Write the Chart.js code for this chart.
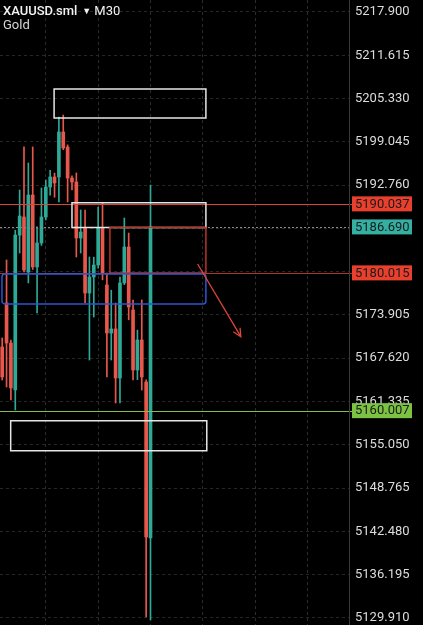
<!DOCTYPE html>
<html>
<head>
<meta charset="utf-8">
<script src="https://cdn.jsdelivr.net/npm/chart.js@4"></script>
<style>
html,body{margin:0;padding:0;background:#000;}
#wrap{width:423px;height:625px;}
</style>
</head>
<body>
<div id="wrap"><canvas id="chart"></canvas></div>
<script>
// XAUUSD.sml M30 candles
var opens  = [5169.25,5175.64,5169.83,5163.01,5185.50,5188.13,5180.14,5191.32,5180.87,5184.35,5188.13,5192.49,5193.94,5193.94,5200.47,5198.30,5193.79,5193.21,5185.08,5186.52,5177.09,5179.42,5181.16,5186.52,5178.26,5171.28,5171.87,5164.75,5178.55,5183.77,5174.62,5165.91,5170.27,5164.17,5141.51];
var highs  = [5170.56,5181.89,5170.27,5186.20,5192.05,5198.30,5195.97,5198.30,5186.70,5192.34,5193.50,5194.90,5194.50,5202.65,5202.94,5198.60,5194.10,5194.52,5189.15,5189.15,5182.32,5182.30,5189.58,5190.16,5180.00,5177.50,5175.64,5179.42,5187.98,5185.80,5176.08,5171.70,5176.08,5164.50,5192.78];
var lows   = [5164.46,5163.44,5161.55,5160.10,5182.90,5180.14,5178.55,5180.50,5174.19,5184.00,5187.70,5191.30,5191.00,5190.31,5197.90,5190.31,5192.05,5182.32,5182.90,5175.64,5167.36,5173.61,5180.70,5179.00,5164.90,5167.36,5161.12,5161.12,5178.30,5173.20,5164.46,5164.50,5163.00,5130.04,5129.61];
var closes = [5164.90,5169.83,5163.30,5185.50,5188.27,5180.43,5191.32,5180.87,5184.35,5188.13,5192.49,5193.94,5193.07,5200.47,5198.15,5193.79,5193.21,5185.08,5185.95,5177.09,5179.42,5181.16,5186.52,5180.00,5171.28,5171.87,5164.75,5178.55,5183.77,5175.06,5165.91,5170.27,5164.90,5141.66,5186.69];

var yTicks = [5217.900,5211.615,5205.330,5199.045,5192.760,5186.475,5180.190,5173.905,5167.620,5161.335,5155.050,5148.765,5142.480,5136.195,5129.910];

// horizontal price levels: resistance, current price, support
var levelPrices = [5190.037, 5186.690, 5180.015, 5160.007];

// drawn zones (bar index from/to, price top/bottom)
var zoneFrom   = [11.9, 16.0, 24.7, -0.05, 1.95];
var zoneTo     = [46.7, 46.7, 46.7, 46.7, 46.9];
var zoneTop    = [5206.72, 5190.20, 5186.60, 5179.85, 5158.55];
var zoneBottom = [5202.51, 5186.60, 5180.00, 5175.50, 5154.19];

// arrow drawn from / to (bar index, price)
var arrowFrom = [44.8, 5181.3];
var arrowTo   = [54.7, 5170.75];

var SLOTS = 80;
var labels = [];
for (var i = 0; i < SLOTS; i++) labels.push(String(i));

var UP = '#2ea897', DOWN = '#e8574c';
var bodies = [], wicks = [], colors = [];
for (var k = 0; k < opens.length; k++) {
    bodies.push([Math.min(opens[k], closes[k]), Math.max(opens[k], closes[k])]);
    wicks.push([lows[k], highs[k]]);
    colors.push(closes[k] >= opens[k] ? UP : DOWN);
}

var overlay = {
    id: 'overlay',
    beforeDraw: function(chart) {
        var c = chart.ctx;
        c.save();
        c.fillStyle = '#000';
        c.fillRect(0, 0, chart.width, chart.height);
        c.restore();
    },
    afterDatasetsDraw: function(chart) {
        var c = chart.ctx, xs = chart.scales.x, ys = chart.scales.y;
        var right = chart.chartArea.right;
        c.save();
        // price level lines
        var lineCols = ['#d9453a', null, '#b23328', '#7dbf4c'];
        levelPrices.forEach(function(p, i) {
            var y = Math.round(ys.getPixelForValue(p)) + 0.5;
            c.beginPath();
            if (i === 1) { c.strokeStyle = '#8a8a8a'; c.setLineDash([2, 2]); }
            else { c.strokeStyle = lineCols[i]; c.setLineDash([]); }
            c.lineWidth = 1;
            c.moveTo(0, y); c.lineTo(right + 3, y); c.stroke();
        });
        c.setLineDash([]);
        // zones
        var zoneCols = ['#e6e6e6', '#e6e6e6', '#b8352b', '#2b57d0', '#e6e6e6'];
        for (var z = 0; z < zoneFrom.length; z++) {
            var x1 = xs.getPixelForValue(zoneFrom[z]), x2 = xs.getPixelForValue(zoneTo[z]);
            var y1 = ys.getPixelForValue(zoneTop[z]), y2 = ys.getPixelForValue(zoneBottom[z]);
            c.strokeStyle = zoneCols[z];
            c.lineWidth = 1.5;
            c.beginPath();
            if (z === 3 && c.roundRect) c.roundRect(x1, y1, x2 - x1, y2 - y1, 3);
            else c.rect(x1, y1, x2 - x1, y2 - y1);
            c.stroke();
        }
        // arrow
        var ax = xs.getPixelForValue(arrowFrom[0]), ay = ys.getPixelForValue(arrowFrom[1]);
        var bx = xs.getPixelForValue(arrowTo[0]), by = ys.getPixelForValue(arrowTo[1]);
        c.strokeStyle = '#e0463a';
        c.lineWidth = 1.3;
        c.beginPath(); c.moveTo(ax, ay); c.lineTo(bx, by); c.stroke();
        var ang = Math.atan2(by - ay, bx - ax);
        c.beginPath();
        c.moveTo(bx - 9 * Math.cos(ang - 0.45), by - 9 * Math.sin(ang - 0.45));
        c.lineTo(bx, by);
        c.lineTo(bx - 9 * Math.cos(ang + 0.45), by - 9 * Math.sin(ang + 0.45));
        c.stroke();
        // axis separator
        c.strokeStyle = '#3a3a3a';
        c.lineWidth = 1;
        c.beginPath(); c.moveTo(right + 0.5, 0); c.lineTo(right + 0.5, chart.height); c.stroke();
        c.restore();
    },
    afterDraw: function(chart) {
        var c = chart.ctx, ys = chart.scales.y;
        var right = chart.chartArea.right;
        c.save();
        var boxCols = ['#e8402d', '#33b0a2', '#e8402d', '#7cc243'];
        c.font = '13px Roboto';
        c.textBaseline = 'middle';
        levelPrices.forEach(function(p, i) {
            var y = ys.getPixelForValue(p);
            c.fillStyle = boxCols[i];
            c.fillRect(right + 3, y - 7.5, 60, 15);
            c.fillStyle = '#1a1a1a';
            c.fillText(p.toFixed(3), right + 6, y + 0.5);
        });
        // header
        c.textBaseline = 'alphabetic';
        c.fillStyle = '#f2f2f2';
        c.font = '500 13px Roboto';
        c.fillText('XAUUSD.sml', 3, 15);
        var w = c.measureText('XAUUSD.sml').width;
        c.font = '9px Roboto';
        c.fillText('\u25BC', 3 + w + 5, 14);
        c.font = '13px Roboto';
        c.fillText('M30', 3 + w + 17, 15);
        c.fillStyle = '#d6d6d6';
        c.fillText('Gold', 3, 29);
        c.restore();
    }
};

var ctx = document.getElementById('chart').getContext('2d');
var myChart = new Chart(ctx, {
    type: 'bar',
    data: {
        labels: labels,
        datasets: [{
            label: 'wick',
            data: wicks,
            backgroundColor: colors,
            borderWidth: 0,
            barThickness: 1,
            grouped: false,
            order: 2
        }, {
            label: 'body',
            data: bodies,
            backgroundColor: colors,
            borderWidth: 0,
            barThickness: 3,
            grouped: false,
            order: 1
        }]
    },
    options: {
        responsive: true,
        maintainAspectRatio: false,
        animation: false,
        layout: { padding: 0 },
        scales: {
            x: {
                offset: true,
                grid: {
                    offset: false,
                    drawTicks: false,
                    color: function(c) { return (c.index % 12 === 10) ? '#2c2c2c' : 'rgba(0,0,0,0)'; }
                },
                border: { display: false, dash: [3, 3] },
                ticks: { display: false, autoSkip: false },
                afterFit: function(s) { s.height = 0; }
            },
            y: {
                position: 'right',
                min: 5128.88,
                max: 5219.64,
                afterBuildTicks: function(s) {
                    s.ticks = yTicks.map(function(v) { return { value: v }; });
                },
                afterFit: function(s) { s.width = 74; s.paddingTop = 0; s.paddingBottom = 0; },
                grid: { color: '#262626', drawTicks: false },
                border: { display: false, dash: [3, 3] },
                ticks: {
                    padding: 6,
                    autoSkip: false,
                    color: '#dcdcdc',
                    font: { family: 'Roboto', size: 13 },
                    callback: function(v) { return Number(v).toFixed(3); }
                }
            }
        },
        plugins: {
            legend: { display: false },
            tooltip: { enabled: false }
        }
    },
    plugins: [overlay]
});
</script>
</body>
</html>
